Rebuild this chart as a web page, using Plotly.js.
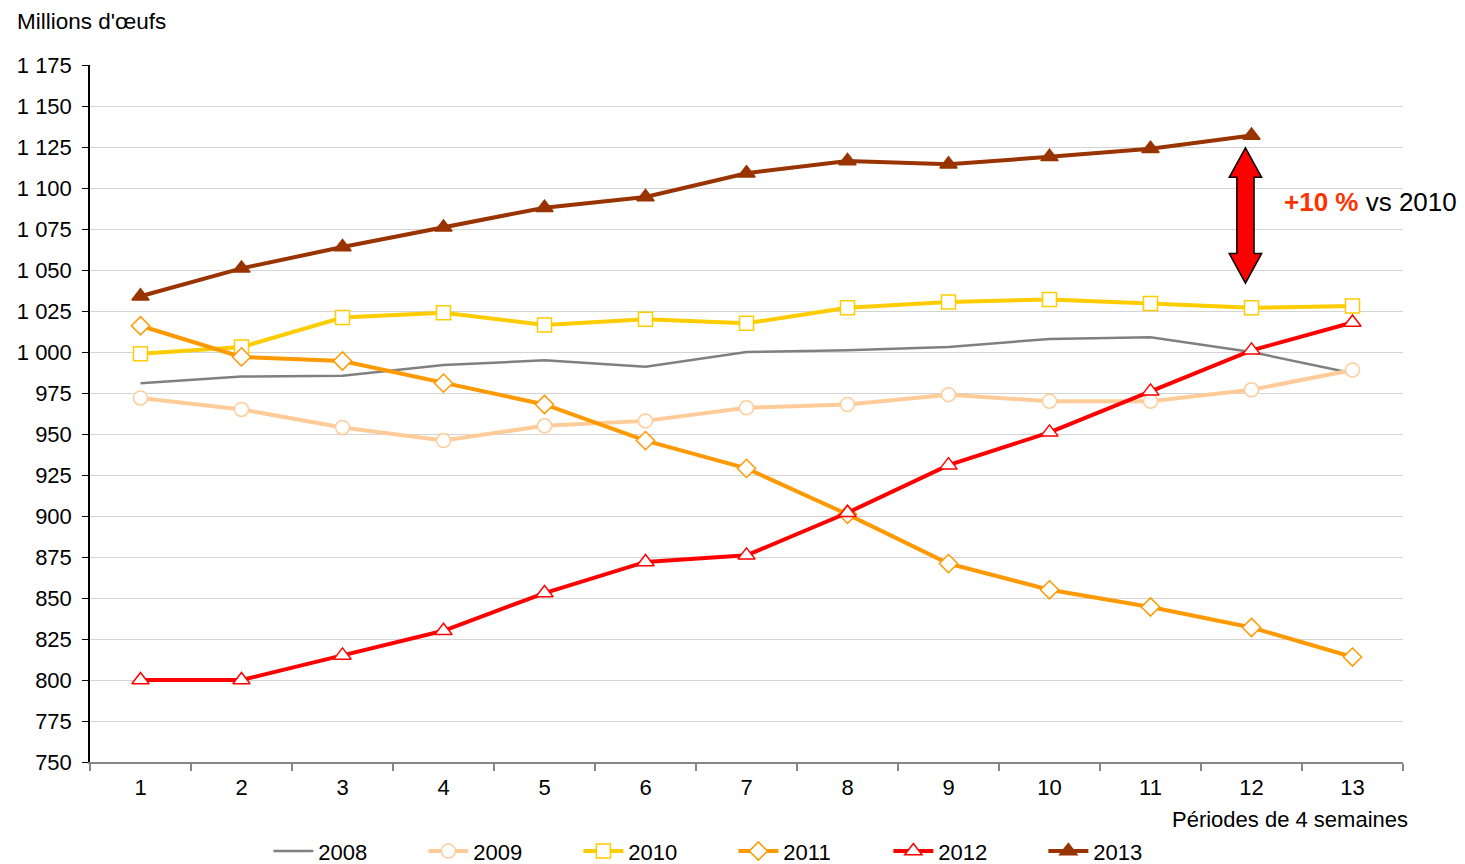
<!DOCTYPE html>
<html>
<head>
<meta charset="utf-8">
<script src="https://cdn.plot.ly/plotly-3.0.1.min.js"></script>
<style>
  body { margin: 0; background: #fff; }
  #chart { width: 1465px; height: 864px; }
</style>
</head>
<body>
<div id="chart"></div>
<script>
const periods = [1, 2, 3, 4, 5, 6, 7, 8, 9, 10, 11, 12, 13];

const y2008 = [981, 985, 985.5, 992, 995, 991, 1000, 1001, 1003, 1008, 1009, 1000, 987];
const y2009 = [972, 965, 954, 946, 955, 958, 966, 968, 974, 970, 970, 977, 989];
const y2010 = [999, 1003, 1021, 1024, 1016.5, 1020, 1017.5, 1027, 1030.5, 1032, 1029.5, 1027, 1028];
const y2011 = [1016, 997, 994.5, 981, 968, 946, 929, 901, 871, 855, 844.5, 832, 814];
const y2012 = [800, 800, 815, 830, 853, 872, 876, 902, 931, 951, 976, 1001, 1018];
const y2013 = [1034, 1051, 1064, 1076, 1088, 1094.5, 1109, 1116.5, 1114.5, 1119, 1124, 1132];

const font = "Liberation Sans, Arial, sans-serif";

function serie(name, ys, color, width, symbol, fill, size){
    const t = {
        x: periods.slice(0, ys.length),
        y: ys,
        name: name,
        type: "scatter",
        mode: symbol ? "lines+markers" : "lines",
        line: {color: color, width: width}
    };
    if(symbol)
        t.marker = {symbol: symbol, size: size, color: fill, line: {color: color, width: 1.5}};
    return t;
}

const traces = [
    serie("2008", y2008, "#808080", 2.5, null),
    serie("2009", y2009, "#FFCC99", 4, "circle", "#ffffff", 14),
    serie("2010", y2010, "#FFCC00", 4, "square", "#ffffff", 14),
    serie("2011", y2011, "#FF9900", 4, "diamond", "#ffffff", 14),
    serie("2012", y2012, "#FF0000", 4, "triangle-up", "#ffffff", 15),
    serie("2013", y2013, "#993300", 4, "triangle-up", "#993300", 15)
];

// double arrow between 2013 and 2010 at period 12
const ax = 11.94, hw = 0.16, sw = 0.085;
const yTop = 1124.5, yTopBase = 1106.5, yBotBase = 1060, yBot = 1042;
const arrowPath = "M " + ax + " " + yTop +
    " L " + (ax + hw) + " " + yTopBase +
    " L " + (ax + sw) + " " + yTopBase +
    " L " + (ax + sw) + " " + yBotBase +
    " L " + (ax + hw) + " " + yBotBase +
    " L " + ax + " " + yBot +
    " L " + (ax - hw) + " " + yBotBase +
    " L " + (ax - sw) + " " + yBotBase +
    " L " + (ax - sw) + " " + yTopBase +
    " L " + (ax - hw) + " " + yTopBase + " Z";

const layout = {
    width: 1465,
    height: 864,
    margin: {l: 90, r: 62, t: 65, b: 102, autoexpand: false},
    paper_bgcolor: "#ffffff",
    plot_bgcolor: "#ffffff",
    font: {family: font, size: 22, color: "#000"},
    separators: ", ",
    showlegend: true,
    legend: {
        orientation: "h",
        x: 0.49, xanchor: "center",
        y: -0.128, yanchor: "middle",
        font: {size: 22},
        entrywidth: 100,
        itemwidth: 40,
        traceorder: "normal"
    },
    xaxis: {
        range: [0.5, 13.5],
        tickvals: periods,
        ticktext: periods.map(String),
        ticks: "",
        ticklabelstandoff: 5,
        showgrid: false,
        zeroline: false,
        showline: true,
        linecolor: "#868686",
        linewidth: 1.5,
        tickfont: {size: 22},
        minor: {
            tickvals: [0.5, 1.5, 2.5, 3.5, 4.5, 5.5, 6.5, 7.5, 8.5, 9.5, 10.5, 11.5, 12.5, 13.5],
            ticks: "outside",
            ticklen: 7,
            tickcolor: "#868686",
            tickwidth: 1.5,
            showgrid: false
        }
    },
    yaxis: {
        range: [750, 1175],
        dtick: 25,
        tick0: 750,
        tickformat: ",d",
        ticks: "outside",
        ticklen: 6,
        tickcolor: "#000",
        ticklabelstandoff: 6,
        showline: true,
        linecolor: "#000",
        linewidth: 1.5,
        showgrid: true,
        gridcolor: "#d4d4d4",
        gridwidth: 1,
        zeroline: false,
        tickfont: {size: 22}
    },
    shapes: [
        {type: "path", xref: "x", yref: "y", path: arrowPath,
         fillcolor: "#FF0000", line: {color: "#000", width: 1.5}}
    ],
    annotations: [
        {text: "Millions d'œufs", xref: "paper", yref: "paper", x: -0.0575, y: 1.0617,
         xanchor: "left", yanchor: "middle", showarrow: false, font: {size: 22.5}},
        {text: "Périodes de 4 semaines", xref: "paper", yref: "paper", x: 1.0055, y: -0.082,
         xanchor: "right", yanchor: "middle", showarrow: false, font: {size: 22}},
        {text: "<b><span style='color:#FF3300'>+10 %</span></b> vs 2010", xref: "paper", yref: "y",
         x: 0.908, y: 1091.5, xanchor: "left", yanchor: "middle", showarrow: false, font: {size: 26}}
    ]
};

Plotly.newPlot("chart", traces, layout, {displayModeBar: false});
</script>
</body>
</html>
